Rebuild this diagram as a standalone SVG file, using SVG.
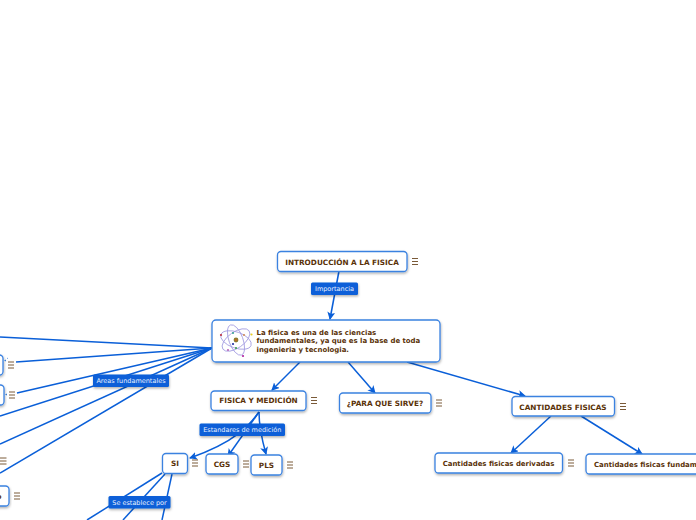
<svg xmlns="http://www.w3.org/2000/svg" width="696" height="520" viewBox="0 0 696 520">
<defs>
<marker id="a" markerUnits="userSpaceOnUse" markerWidth="10" markerHeight="10" refX="7" refY="4" orient="auto"><path d="M0,0L8,4L0,8L2,4Z" fill="#0a5fd8"/></marker>
<filter id="s" x="-10%" y="-20%" width="120%" height="150%"><feDropShadow dx="0.5" dy="1.5" stdDeviation="1" flood-color="#000" flood-opacity="0.3"/></filter>
</defs>
<style>
.c{fill:none;stroke:#0a5fd8;stroke-width:1.5}
.n{fill:#fff;stroke:#3b82e0;stroke-width:1.3;filter:url(#s)}
.t{font-family:"DejaVu Sans",sans-serif;font-weight:700;font-size:6.95px;fill:#5a3208}
.u{font-size:7.3px}
.m{text-anchor:middle}
.l{fill:#0a5fd8;filter:url(#s)}
.lt{font-family:"DejaVu Sans",sans-serif;font-size:6.5px;fill:#e8f0ff;text-anchor:middle}
.h{fill:none;stroke:#7a5a38;stroke-width:1}
.e{fill:none;stroke:#a09ae0;stroke-width:0.8}
</style>
<g id="connectors">
<path class="c" d="M339,271L330,319" marker-end="url(#a)"/>
<path class="c" d="M212,348L0,337"/>
<path class="c" d="M212,348L16,362"/>
<path class="c" d="M212,348L17,393"/>
<path class="c" d="M212,348L0,416"/>
<path class="c" d="M212,348L0,444"/>
<path class="c" d="M212,348L0,473"/>
<path class="c" d="M300,362L272,390" marker-end="url(#a)"/>
<path class="c" d="M348,362L375,393" marker-end="url(#a)"/>
<path class="c" d="M407,362L525,396" marker-end="url(#a)"/>
<path class="c" d="M259,412C250,424 238,441 190,458" marker-end="url(#a)"/>
<path class="c" d="M259,412L228,456" marker-end="url(#a)"/>
<path class="c" d="M259,412C259,425 262,440 266,454" marker-end="url(#a)"/>
<path class="c" d="M551,416L511,453" marker-end="url(#a)"/>
<path class="c" d="M581,416L642,454" marker-end="url(#a)"/>
<path class="c" d="M162,473L87,520"/>
<path class="c" d="M165,474L123,520"/>
<path class="c" d="M172,474L162,520"/>
<path d="M4,360.500L6,359.500V361.500ZM7,358.500L8,357.500V359Z" fill="#3b82e0"/>
<path d="M5,394.500L7,393.500V395.500Z" fill="#3b82e0"/>
</g>
<g id="n-intro"><rect class="n" x="277.5" y="251.5" width="129.5" height="20" rx="3.5"/><text class="t u m" x="342" y="265">INTRODUCCIÓN A LA FISICA</text><path class="h" d="M412,258.5h6M412,261.5h6M412,264.5h6"/></g>
<g id="n-main"><rect class="n" x="212" y="320" width="228" height="42" rx="4"/>
<g id="atom"><ellipse class="e" cx="236" cy="340" rx="16" ry="8" transform="rotate(20 236 340)"/><ellipse class="e" cx="236" cy="340" rx="16" ry="8" transform="rotate(-35 236 340)"/><ellipse class="e" cx="236" cy="340" rx="16" ry="7" transform="rotate(70 236 340)"/><circle cx="236" cy="340" r="2.4" fill="#8a7a30"/><circle cx="236" cy="340" r="1" fill="#d06020"/><circle cx="221" cy="335" r="1.1" fill="#c03040"/><circle cx="251.500" cy="334.500" r="1.100" fill="#e8d020"/><circle cx="243" cy="356" r="1.100" fill="#b020a0"/><circle cx="233" cy="344" r="1.100" fill="#2030a0"/><circle cx="236" cy="348" r="1" fill="#30a040"/><circle cx="233" cy="333" r="1" fill="#30a090"/><circle cx="244" cy="335" r="0.900" fill="#d08040"/><circle cx="228" cy="350" r="0.900" fill="#b050b0"/></g>
<text class="t" x="256.5" y="334.5">La fisica es una de las ciencias</text><text class="t" x="256.5" y="343">fundamentales, ya que es la base de toda</text><text class="t" x="256.5" y="351.5">ingenieria y tecnologia.</text></g>
<g id="n-fisica"><rect class="n" x="211" y="391" width="95" height="19.5" rx="3.5"/><text class="t u m" x="258.5" y="403">FISICA Y MEDICIÓN</text><path class="h" d="M311,397.5h6M311,400.5h6M311,403.5h6"/></g>
<g id="n-para"><rect class="n" x="339.5" y="393" width="91.5" height="20" rx="3.5"/><text class="t u m" x="385" y="405.500">¿PARA QUE SIRVE?</text><path class="h" d="M436,400h6M436,403h6M436,406h6"/></g>
<g id="n-cant"><rect class="n" x="512" y="396.5" width="102.5" height="19.5" rx="3.5"/><text class="t u m" x="563" y="409.5">CANTIDADES FISICAS</text><path class="h" d="M620,403.5h6M620,406.5h6M620,409.5h6"/></g>
<g id="n-deriv"><rect class="n" x="435" y="453" width="127.5" height="20" rx="3.5"/><text class="t m" x="498.5" y="466">Cantidades fisicas derivadas</text><path class="h" d="M568,460h6M568,463h6M568,466h6"/></g>
<g id="n-fund"><rect class="n" x="586" y="454" width="130" height="20" rx="3.5"/><text class="t" x="594" y="467">Cantidades fisicas fundamentales</text></g>
<g id="n-si"><rect class="n" x="162.5" y="453.5" width="25" height="20" rx="3.5"/><text class="t u m" x="175" y="466">SI</text><path class="h" d="M192,460h6M192,463h6M192,466h6"/></g>
<g id="n-cgs"><rect class="n" x="206" y="454" width="32" height="20" rx="3.5"/><text class="t u m" x="222" y="467">CGS</text><path class="h" d="M243,461h6M243,464h6M243,467h6"/></g>
<g id="n-pls"><rect class="n" x="251" y="455" width="31" height="20" rx="3.5"/><text class="t u m" x="266.500" y="468">PLS</text><path class="h" d="M287,462h6M287,465h6M287,468h6"/></g>
<g id="n-left1"><rect class="n" x="-20" y="355" width="23" height="20" rx="3.5"/><path class="h" d="M8,362h6M8,365h6M8,368h6"/></g>
<g id="n-left2"><rect class="n" x="-20" y="385" width="24" height="20" rx="3.500"/><path class="h" d="M9,392h6M9,395h6M9,398h6"/></g>
<g id="n-left3"><path class="h" d="M0,458h6.500M0,461h6.500M0,464h6.500"/></g>
<g id="n-left4"><rect class="n" x="-20" y="486" width="29" height="20" rx="3.500"/><text class="t u" x="-3.500" y="499">o</text><path class="h" d="M14,493h6M14,496h6M14,499h6"/></g>
<g id="labels">
<rect class="l" x="311" y="282.500" width="47" height="12.500" rx="1.500"/><text class="lt" x="334.500" y="291.300">Importancia</text>
<rect class="l" x="93" y="374.500" width="76" height="12.500" rx="1.500"/><text class="lt" x="131" y="383.300">Areas fundamentales</text>
<rect class="l" x="199.500" y="423.500" width="85.500" height="12.500" rx="1.500"/><text class="lt" x="242.250" y="432.300">Estandares de medición</text>
<rect class="l" x="108.500" y="496" width="62" height="12.500" rx="1.500"/><text class="lt" x="139.500" y="504.800">Se establece por</text>
</g>
</svg>
